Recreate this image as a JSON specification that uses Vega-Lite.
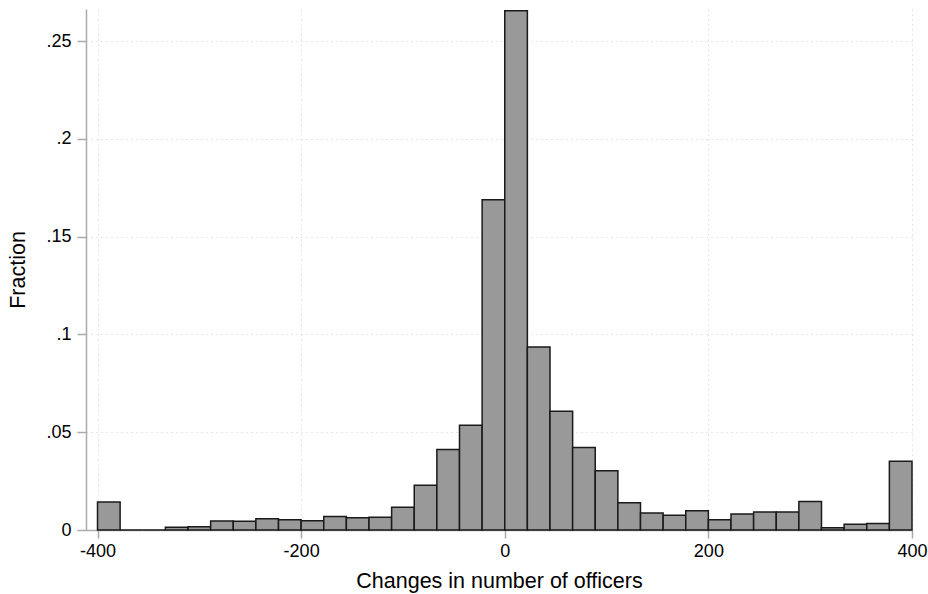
{
  "$schema": "https://vega.github.io/schema/vega-lite/v6.json",
  "width": 826,
  "height": 521,
  "autosize": {"type": "none"},
  "padding": {"left": 86, "top": 9, "right": 16, "bottom": 64},
  "background": "white",
  "config": {
    "view": {"stroke": null},
    "font": "Liberation Sans"
  },
  "data": {
    "values": [
      {"bin_start": -400.0, "bin_end": -377.78, "fraction": 0.0143},
      {"bin_start": -377.78, "bin_end": -355.56, "fraction": 0.0},
      {"bin_start": -355.56, "bin_end": -333.33, "fraction": 0.0},
      {"bin_start": -333.33, "bin_end": -311.11, "fraction": 0.0014},
      {"bin_start": -311.11, "bin_end": -288.89, "fraction": 0.0017},
      {"bin_start": -288.89, "bin_end": -266.67, "fraction": 0.0046},
      {"bin_start": -266.67, "bin_end": -244.44, "fraction": 0.0045},
      {"bin_start": -244.44, "bin_end": -222.22, "fraction": 0.0058},
      {"bin_start": -222.22, "bin_end": -200.0, "fraction": 0.0053},
      {"bin_start": -200.0, "bin_end": -177.78, "fraction": 0.0047},
      {"bin_start": -177.78, "bin_end": -155.56, "fraction": 0.0069},
      {"bin_start": -155.56, "bin_end": -133.33, "fraction": 0.0062},
      {"bin_start": -133.33, "bin_end": -111.11, "fraction": 0.0065},
      {"bin_start": -111.11, "bin_end": -88.89, "fraction": 0.0116},
      {"bin_start": -88.89, "bin_end": -66.67, "fraction": 0.0229},
      {"bin_start": -66.67, "bin_end": -44.44, "fraction": 0.0411},
      {"bin_start": -44.44, "bin_end": -22.22, "fraction": 0.0536},
      {"bin_start": -22.22, "bin_end": 0.0, "fraction": 0.1689},
      {"bin_start": 0.0, "bin_end": 22.22, "fraction": 0.2655},
      {"bin_start": 22.22, "bin_end": 44.44, "fraction": 0.0936},
      {"bin_start": 44.44, "bin_end": 66.67, "fraction": 0.0607},
      {"bin_start": 66.67, "bin_end": 88.89, "fraction": 0.0422},
      {"bin_start": 88.89, "bin_end": 111.11, "fraction": 0.0303},
      {"bin_start": 111.11, "bin_end": 133.33, "fraction": 0.0139},
      {"bin_start": 133.33, "bin_end": 155.56, "fraction": 0.0087},
      {"bin_start": 155.56, "bin_end": 177.78, "fraction": 0.0075},
      {"bin_start": 177.78, "bin_end": 200.0, "fraction": 0.0099},
      {"bin_start": 200.0, "bin_end": 222.22, "fraction": 0.0052},
      {"bin_start": 222.22, "bin_end": 244.44, "fraction": 0.0082},
      {"bin_start": 244.44, "bin_end": 266.67, "fraction": 0.0092},
      {"bin_start": 266.67, "bin_end": 288.89, "fraction": 0.0092},
      {"bin_start": 288.89, "bin_end": 311.11, "fraction": 0.0146},
      {"bin_start": 311.11, "bin_end": 333.33, "fraction": 0.0012},
      {"bin_start": 333.33, "bin_end": 355.56, "fraction": 0.003},
      {"bin_start": 355.56, "bin_end": 377.78, "fraction": 0.0033},
      {"bin_start": 377.78, "bin_end": 400.0, "fraction": 0.0352}
    ]
  },
  "mark": {"type": "bar", "fill": "#999999", "stroke": "#1a1a1a", "strokeWidth": 1.5, "strokeJoin": "miter"},
  "encoding": {
    "x": {
      "field": "bin_start",
      "type": "quantitative",
      "scale": {"domain": [-411.3, 400], "nice": false, "zero": false},
      "axis": {
        "values": [-400, -200, 0, 200, 400],
        "labelExpr": "toString(datum.value)",
        "title": "Changes in number of officers",
        "titleFont": "Liberation Sans",
        "titleFontSize": 21.5,
        "titleFontWeight": "normal",
        "titleColor": "#000000",
        "titlePadding": 10,
        "labelFont": "Liberation Sans",
        "labelFontSize": 18,
        "labelColor": "#000000",
        "labelPadding": 4,
        "tickSize": 8,
        "tickColor": "#aaaaaa",
        "tickWidth": 1.5,
        "domainColor": "#aaaaaa",
        "domainWidth": 1.5,
        "grid": true,
        "gridColor": "#cccccc",
        "gridDash": [1, 4],
        "gridWidth": 1,
        "labelFlush": false
      }
    },
    "x2": {"field": "bin_end"},
    "y": {
      "field": "fraction",
      "type": "quantitative",
      "scale": {"domain": [0, 0.2664], "nice": false},
      "axis": {
        "values": [0, 0.05, 0.1, 0.15, 0.2, 0.25],
        "labelExpr": "datum.value == 0 ? '0' : substring(toString(datum.value), 1)",
        "title": "Fraction",
        "titleFont": "Liberation Sans",
        "titleFontSize": 21.5,
        "titleFontWeight": "normal",
        "titleColor": "#000000",
        "titlePadding": 16,
        "labelFont": "Liberation Sans",
        "labelFontSize": 18,
        "labelColor": "#000000",
        "labelPadding": 6,
        "tickSize": 9,
        "tickColor": "#aaaaaa",
        "tickWidth": 1.5,
        "domainColor": "#aaaaaa",
        "domainWidth": 1.5,
        "grid": true,
        "gridColor": "#cccccc",
        "gridDash": [1, 4],
        "gridWidth": 1,
        "labelFlush": false
      }
    },
    "y2": {"datum": 0}
  }
}
